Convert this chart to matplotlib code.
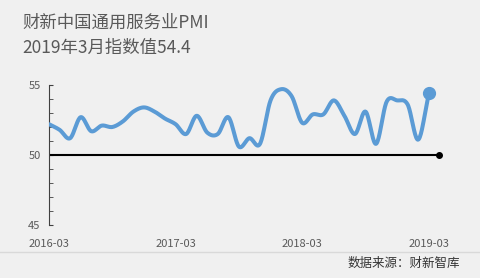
import numpy as np
import matplotlib.pyplot as plt

plt.rcParams['font.family'] = ['Noto Sans CJK SC', 'DejaVu Sans']

# 财新中国通用服务业PMI, 2016-03 .. 2019-03 (monthly)
pmi = [52.2, 51.8, 51.2, 52.7, 51.7, 52.1, 52.0, 52.4, 53.1, 53.4,
       53.1, 52.6, 52.2, 51.5, 52.8, 51.6, 51.5, 52.7, 50.6, 51.2, 50.8, 53.9,
       54.7, 54.2, 52.3, 52.9, 52.9, 53.9, 52.8, 51.5, 53.1, 50.8, 53.8, 53.9,
       53.6, 51.1, 54.4]
tick_pos = [0, 12, 24, 36]
tick_labels = ['2016-03', '2017-03', '2018-03', '2019-03']
baseline = 50


def smooth(x, y, n=20):
    # catmull-rom curve through the points, like excel's smoothed line
    x = np.asarray(x, float)
    y = np.asarray(y, float)
    px = np.concatenate([[2 * x[0] - x[1]], x, [2 * x[-1] - x[-2]]])
    py = np.concatenate([[2 * y[0] - y[1]], y, [2 * y[-1] - y[-2]]])
    t = np.linspace(0, 1, n, endpoint=False)
    xs, ys = [], []
    for i in range(1, len(px) - 2):
        for p, out in ((px, xs), (py, ys)):
            p0, p1, p2, p3 = p[i - 1], p[i], p[i + 1], p[i + 2]
            out.append(0.5 * (2 * p1 + (-p0 + p2) * t
                              + (2 * p0 - 5 * p1 + 4 * p2 - p3) * t ** 2
                              + (-p0 + 3 * p1 - 3 * p2 + p3) * t ** 3))
    xs.append([x[-1]])
    ys.append([y[-1]])
    return np.concatenate(xs), np.concatenate(ys)


W, H = 481, 278
fig = plt.figure(figsize=(W / 100, H / 100), dpi=100, facecolor='#f0f0f0')
ax = fig.add_axes([49 / W, (H - 225) / H, (445 - 49) / W, 140 / H])
ax.set_facecolor('#f0f0f0')

months = np.arange(len(pmi))
sx, sy = smooth(months, pmi)
ax.plot(sx, sy, color='#5b9bd5', lw=2.9, solid_capstyle='round', zorder=3)
ax.plot(months[-1], pmi[-1], 'o', color='#5b9bd5', ms=8.5, zorder=4, clip_on=False)

ax.plot([0, len(pmi)], [baseline, baseline], color='black', lw=1.5, zorder=2)
ax.plot(len(pmi), baseline, 'o', color='black', ms=4, zorder=2, clip_on=False)

ax.set_xlim(0, (445 - 49) / 10.55)
ax.set_ylim(45, 55)
ax.set_yticks([45, 50, 55])
ax.set_yticks(np.arange(45, 56, 1), minor=True)
ax.set_xticks(tick_pos)
ax.set_xticklabels(tick_labels)
for s in ['top', 'right', 'bottom']:
    ax.spines[s].set_visible(False)
ax.spines['left'].set_color('#404040')
ax.tick_params(axis='y', which='both', direction='in', length=3, color='#404040',
               labelsize=8, labelcolor='#595959', pad=6)
ax.tick_params(axis='x', length=0, labelsize=8, labelcolor='#595959', pad=10)

fig.text(22 / W, 1 - 23 / H, '财新中国通用服务业PMI', fontsize=12.5,
         color='#595959', va='center')
fig.text(22 / W, 1 - 48 / H, '2019年3月指数值54.4', fontsize=12.5,
         color='#595959', va='center')
fig.add_artist(plt.Line2D([0, 1], [1 - 252 / H, 1 - 252 / H], color='#d9d9d9', lw=1))
fig.text(460 / W, 1 - 263 / H, '数据来源：财新智库', fontsize=9,
         color='#333333', ha='right', va='center')

fig.savefig('out.png', dpi=100, facecolor=fig.get_facecolor())
